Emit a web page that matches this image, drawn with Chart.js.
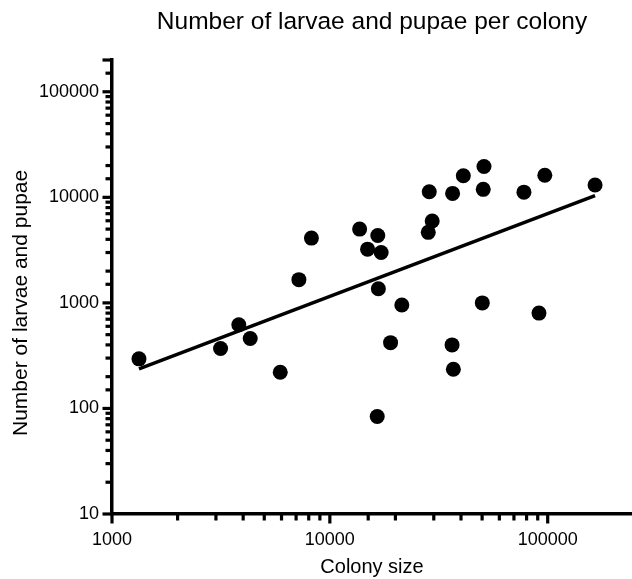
<!DOCTYPE html>
<html>
<head>
<meta charset="utf-8">
<script src="https://cdn.jsdelivr.net/npm/chart.js@4.4.1/dist/chart.umd.min.js"></script>
<style>
  html, body { margin: 0; padding: 0; background: #fff; }
</style>
</head>
<body>
<canvas id="chart" width="632" height="579"></canvas>
<script>
// colony size vs larvae+pupae
const colonySize = [1330, 3150, 3820, 4310, 5920, 7210, 8230, 13700, 16600, 14900,
  17200, 28600, 36600, 41000, 51000, 50600, 77800, 97000, 165000, 29500,
  28300, 16700, 21400, 50100, 91200, 19000, 36400, 36900, 16500];
const broodCount = [295, 370, 620, 460, 220, 1660, 4110, 5000, 4350, 3230,
  3000, 11300, 10900, 16000, 19600, 11900, 11200, 16200, 13100, 5970,
  4660, 1360, 955, 1000, 800, 420, 400, 235, 84];

// fitted line (ends at min / max colony size)
const fitX = [1330, 165000];
const fitY = [237, 10400];

const xTickLabels = [1000, 10000, 100000];
const yTickLabels = [10, 100, 1000, 10000, 100000];
const xRange = [1000, 243800];
const yRange = [10, 200000];

const FONT = '"Liberation Sans", Arial, Helvetica, sans-serif';

function isDecade(v){ const l = Math.log10(v); return Math.abs(l - Math.round(l)) < 1e-6; }

// prism-style tick marks: long at decades, short in between
const tickMarks = {
  id: 'tickMarks',
  afterDraw(chart){
    const ctx = chart.ctx, xs = chart.scales.x, ys = chart.scales.y, area = chart.chartArea;
    ctx.save();
    ctx.strokeStyle = '#000'; ctx.lineWidth = 3.2; ctx.lineCap = 'butt';
    xs.ticks.forEach(t => {
      if (t.value > xTickLabels[xTickLabels.length - 1]) return;
      const px = xs.getPixelForValue(t.value);
      const len = isDecade(t.value) ? 9.5 : 6.5;
      ctx.beginPath(); ctx.moveTo(px, area.bottom); ctx.lineTo(px, area.bottom + len); ctx.stroke();
    });
    ys.ticks.forEach(t => {
      const py = ys.getPixelForValue(t.value);
      const len = (isDecade(t.value) || t.value === yRange[1]) ? 9.5 : 6.5;
      ctx.beginPath(); ctx.moveTo(area.left, py); ctx.lineTo(area.left - len, py); ctx.stroke();
    });
    // y title centred on the labelled span
    const mid = (ys.getPixelForValue(yTickLabels[0]) + ys.getPixelForValue(yTickLabels[yTickLabels.length - 1])) / 2;
    ctx.translate(21, mid); ctx.rotate(-Math.PI / 2);
    ctx.font = '21px ' + FONT; ctx.fillStyle = '#000';
    ctx.textAlign = 'center'; ctx.textBaseline = 'middle';
    ctx.fillText('Number of larvae and pupae', 0, 0);
    ctx.restore();
  }
};

const points = colonySize.map((x, i) => ({ x: x, y: broodCount[i] }));
const fitLine = fitX.map((x, i) => ({ x: x, y: fitY[i] }));

new Chart(document.getElementById('chart'), {
  type: 'scatter',
  data: {
    datasets: [
      { data: points, backgroundColor: '#000', borderWidth: 0, pointRadius: 7.5, pointHoverRadius: 7.5 },
      { data: fitLine, showLine: true, borderColor: '#000', borderWidth: 3.5, pointRadius: 0, fill: false }
    ]
  },
  options: {
    responsive: false,
    animation: false,
    events: [],
    layout: { padding: 0, autoPadding: false },
    plugins: {
      legend: { display: false },
      tooltip: { enabled: false },
      title: {
        display: true, text: 'Number of larvae and pupae per colony', color: '#000', fullSize: false,
        font: { family: FONT, size: 24.5, weight: 'normal' }, padding: { top: 8, bottom: 22.6 }
      }
    },
    scales: {
      x: {
        type: 'logarithmic', min: xRange[0], max: xRange[1],
        afterFit: s => { s.height = 65; s.paddingLeft = 0; s.paddingRight = 0; },
        grid: { display: true, drawOnChartArea: false, drawTicks: false, color: '#000', lineWidth: 0 },
        border: { display: true, color: '#000', width: 3.5 },
        ticks: {
          autoSkip: false, maxRotation: 0, padding: 15, color: '#000',
          font: { family: FONT, size: 18 },
          callback: v => xTickLabels.includes(v) ? String(v) : ''
        },
        title: { display: true, text: 'Colony size', color: '#000', font: { family: FONT, size: 20 }, padding: { top: 0, bottom: 0 } }
      },
      y: {
        type: 'logarithmic', min: yRange[0], max: yRange[1],
        afterFit: s => { s.width = 112; s.paddingTop = 0; s.paddingBottom = 0; },
        grid: { display: true, drawOnChartArea: false, drawTicks: false, color: '#000', lineWidth: 0 },
        border: { display: true, color: '#000', width: 3.5 },
        ticks: {
          autoSkip: false, padding: 13, color: '#000',
          font: { family: FONT, size: 18 },
          callback: v => yTickLabels.includes(v) ? String(v) : ''
        }
      }
    }
  },
  plugins: [tickMarks]
});
</script>
</body>
</html>
